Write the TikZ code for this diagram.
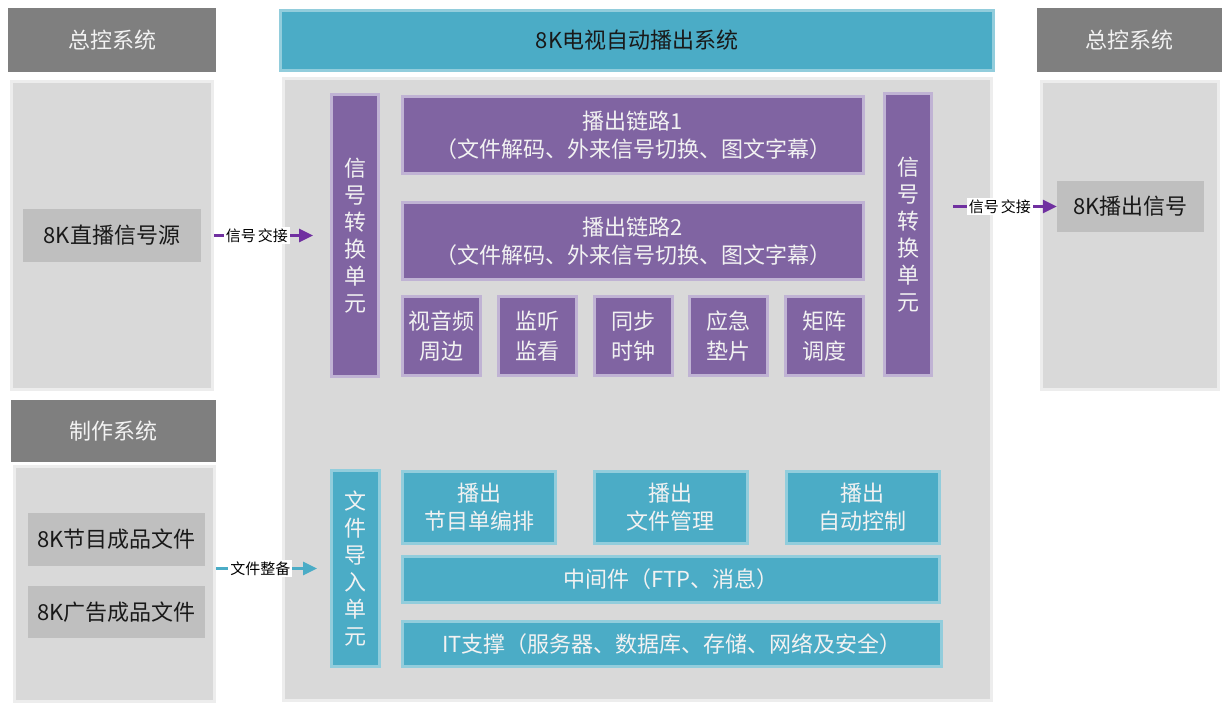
\documentclass[tikz,border=0pt]{standalone}
\usepackage{fontspec}
\setmainfont{Noto Sans CJK SC}
\usetikzlibrary{arrows.meta,positioning}
\definecolor{hdrGray}{HTML}{7F7F7F}
\definecolor{bodyGray}{HTML}{D9D9D9}
\definecolor{itemGray}{HTML}{BFBFBF}
\definecolor{penPurple}{HTML}{8064A2}
\definecolor{rimPurple}{HTML}{C0B3D4}
\definecolor{penTeal}{HTML}{4BACC6}
\definecolor{rimTeal}{HTML}{92CDDC}
\definecolor{arrowPurple}{HTML}{7030A0}
\tikzset{>={Triangle[length=14pt,width=13pt]}}
\tikzset{
  box/.style={inner sep=0pt, align=center, font=\fontsize{22}{28}\selectfont},
  hdr/.style={box, fill=hdrGray, text=white!95!black},
  body/.style={box, fill=bodyGray, draw=white!93!black, line width=3pt},
  item/.style={box, fill=itemGray, text=black!90},
  pbox/.style={box, fill=penPurple, draw=rimPurple, line width=3pt, text=white!95!black},
  tbox/.style={box, fill=penTeal, draw=rimTeal, line width=3pt, text=white!95!black},
  vert/.style={font=\fontsize{22}{27}\selectfont},
  sig/.style={draw=arrowPurple, line width=3pt, ->, arrowPurple},
  feed/.style={draw=penTeal, line width=3pt, ->, penTeal},
  tag/.style={fill=white, text=black, inner sep=2pt, font=\fontsize{15}{15}\selectfont}
}

\begin{document}
\begin{tikzpicture}[x=1pt,y=-1pt]
\useasboundingbox (0,0) rectangle (1232,711);
% left side
\node[hdr, minimum width=208, minimum height=64] (lhdr) at (112,40) {总控系统};
\node[body, minimum width=201, minimum height=308] (lbody) at (112,235.5) {};
\node[item, minimum width=178, minimum height=53] (live) at (112,235.5) {8K直播信号源};
\node[hdr, minimum width=205, minimum height=62] (phdr) at (113.5,431) {制作系统};
\node[body, minimum width=200, minimum height=235] (pbody) at (114.5,584) {};
\node[item, minimum width=177, minimum height=53] (prog) at (116.5,539.5) {8K节目成品文件};
\node[item, minimum width=177, minimum height=52] (ad) at (116.5,612) {8K广告成品文件};
% right side
\node[hdr, minimum width=185, minimum height=64] (rhdr) at (1129.5,40) {总控系统};
\node[body, minimum width=177, minimum height=308] (rbody) at (1130,235.5) {};
\node[item, minimum width=147, minimum height=51] (playout) at (1130.5,206.5) {8K播出信号};
% playout system
\node[box, fill=penTeal, draw=rimTeal, line width=3pt, text=black!90,
      minimum width=713, minimum height=60] (title) at (637,40.5) {8K电视自动播出系统};
\node[body, minimum width=708, minimum height=622] (cbody) at (637.5,389.5) {};
\node[pbox, vert, minimum width=47, minimum height=282] (cvt1) at (355,235.5) {信\\号\\转\\换\\单\\元};
\node[pbox, vert, minimum width=47, minimum height=282] (cvt2) at (908,234.5) {信\\号\\转\\换\\单\\元};
\node[pbox, minimum width=461, minimum height=77] (chain1) at (633,135)
  {播出链路1\\（文件解码、外来信号切换、图文字幕）};
\node[pbox, minimum width=461, minimum height=77] (chain2) at (633,241)
  {播出链路2\\（文件解码、外来信号切换、图文字幕）};
\foreach \n/\t [count=\i from 0] in {av/{视音频\\周边}, mon/{监听\\监看}, sync/{同步\\时钟},
    slate/{应急\\垫片}, mtx/{矩阵\\调度}}
  \node[pbox, font=\fontsize{22}{30}\selectfont, minimum width=78, minimum height=79]
    (\n) at (441.5+95.75*\i,336) {\t};
\node[tbox, vert, minimum width=48, minimum height=196] (imp) at (355.5,568.5) {文\\件\\导\\入\\单\\元};
\foreach \n/\t [count=\i from 0] in {sched/{播出\\节目单编排}, files/{播出\\文件管理}, ctrl/{播出\\自动控制}}
  \node[tbox, minimum width=153, minimum height=72] (\n) at (479+191.75*\i,507.5) {\t};
\node[tbox, minimum width=537, minimum height=46] (mid) at (671,579.5) {中间件（FTP、消息）};
\node[tbox, minimum width=539, minimum height=45] (it) at (672,644) {IT支撑（服务器、数据库、存储、网络及安全）};
% connectors
\draw[sig, shorten >=17pt] (lbody.east |- live) -- node[tag, pos=0.37] {信号\hspace{2pt}交接} (cvt1.west |- live);
\draw[sig, shorten <=20pt] (cvt2.east |- playout) -- node[tag, pos=0.54] {信号\hspace{2pt}交接} (playout.west);
\draw[feed, shorten >=13pt] (pbody.east |- imp) -- node[tag, pos=0.39] {文件整备} (imp.west);
\end{tikzpicture}
\end{document}
